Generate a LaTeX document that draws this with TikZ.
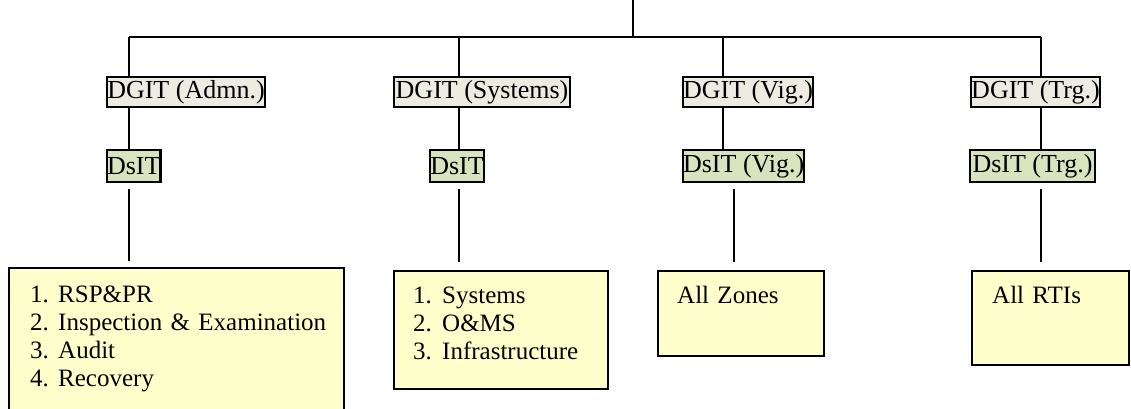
\documentclass[tikz,border=0pt]{standalone}
\usepackage{fontspec}
\setmainfont{Liberation Serif}
\definecolor{dgitfill}{HTML}{EEECE1}
\definecolor{dsitfill}{HTML}{D7E4BD}
\definecolor{unitfill}{HTML}{FFFFCC}
\begin{document}
\begin{tikzpicture}[x=1pt,y=-1pt,
  conn/.style={line width=1.4pt},
  box/.style={draw, line width=2.2pt, inner sep=0pt, anchor=north west},
  dgit/.style={box, fill=dgitfill, font=\fontsize{26}{30}\selectfont},
  dsit/.style={box, fill=dsitfill, font=\fontsize{26}{30}\selectfont},
  unit/.style={box, fill=unitfill},
  listtext/.style={anchor=base west, inner sep=0pt, text width=400pt, align=left,
    font=\fontsize{25}{28}\selectfont}]
\useasboundingbox (0,0) rectangle (1131,408);
\clip (0,0) rectangle (1131,408);

% connector positions
\coordinate (root) at (633,0);
\coordinate (busC) at (633,37);
\coordinate (busA) at (129,37);
\coordinate (busS) at (459,37);
\coordinate (busV) at (723,37);
\coordinate (busT) at (1041,37);
\coordinate (lowV) at (734,37);

% directorate boxes
\node[dgit, minimum width=157.8, minimum height=29.8] (dgitA) at (106,76) {DGIT (Admn.)};
\node[dgit, minimum width=175.8, minimum height=29.8] (dgitS) at (393,76) {DGIT (Systems)};
\node[dgit, minimum width=125.8, minimum height=29.8] (dgitV) at (682,76) {DGIT (Vig.)};
\node[dgit, minimum width=128.8, minimum height=29.8] (dgitT) at (970,76) {DGIT (Trg.)};

\node[dsit, minimum width=52.8, minimum height=31.8] (dsitA) at (106,149) {DsIT};
\node[dsit, minimum width=53.8, minimum height=31.8] (dsitS) at (429,149) {DsIT};
\node[dsit, minimum width=120.8, minimum height=31.8] (dsitV) at (682,149) {DsIT (Vig.)};
\node[dsit, minimum width=124.8, minimum height=31.8] (dsitT) at (969,149) {DsIT (Trg.)};

% connectors
\draw[conn] (root) -- (busC);
\draw[conn] (busA) -- (busT);
\draw[conn] (busA) -- (dgitA.north -| busA);
\draw[conn] (busS) -- (dgitS.north -| busS);
\draw[conn] (busV) -- (dgitV.north -| busV);
\draw[conn] (busT) -- (dgitT.north -| busT);
\draw[conn] (dgitA.south -| busA) -- (dsitA.north -| busA);
\draw[conn] (dgitS.south -| busS) -- (dsitS.north -| busS);
\draw[conn] (dgitV.south -| busV) -- (dsitV.north -| busV);
\draw[conn] (dgitT.south -| busT) -- (dsitT.north -| busT);

% unit boxes
\node[unit, minimum width=334.8, minimum height=170] (unitA) at (8,267) {};
\node[unit, minimum width=213.8, minimum height=117.8] (unitS) at (393,270) {};
\node[unit, minimum width=165.8, minimum height=84.8] (unitV) at (657,270) {};
\node[unit, minimum width=156.8, minimum height=93.8] (unitT) at (971,270) {};

\draw[conn, shorten <=6pt, shorten >=6pt] (dsitA.south -| busA) -- (unitA.north -| busA);
\draw[conn, shorten <=6pt, shorten >=8pt] (dsitS.south -| busS) -- (unitS.north -| busS);
\draw[conn, shorten <=6pt, shorten >=8pt] (dsitV.south -| lowV) -- (unitV.north -| lowV);
\draw[conn, shorten <=6pt, shorten >=8pt] (dsitT.south -| busT) -- (unitT.north -| busT);

% unit texts
\node[listtext] (listA) at (30,302) {%
  \makebox[28pt][l]{1.}RSP\&PR\\
  \makebox[28pt][l]{2.}Inspection \& Examination\\
  \makebox[28pt][l]{3.}Audit\\
  \makebox[28pt][l]{4.}Recovery};
\node[listtext] (listS) at (413,303) {%
  \makebox[29pt][l]{1.}Systems\\
  \makebox[29pt][l]{2.}O\&MS\\
  \makebox[29pt][l]{3.}Infrastructure};
\node[listtext] (listV) at (677,303) {All Zones};
\node[listtext] (listT) at (992,303) {All RTIs};
\end{tikzpicture}
\end{document}
